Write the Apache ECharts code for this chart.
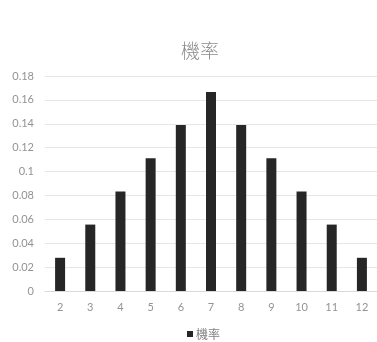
<!DOCTYPE html>
<html><head><meta charset="utf-8">
<script src="https://cdn.jsdelivr.net/npm/echarts@6/dist/echarts.min.js"></script>
<style>html,body{margin:0;padding:0;background:#fff}#c{width:377px;height:342px}</style>
</head><body><div id="c"></div>
<script>
const categories = ['2','3','4','5','6','7','8','9','10','11','12'];
const probability = [0.0278,0.0556,0.0833,0.1111,0.1389,0.1667,0.1389,0.1111,0.0833,0.0556,0.0278];
const seriesName = '機率';
const titleText = '機率';

const chart = echarts.init(document.getElementById('c'), null, {renderer:'canvas'});
const lbl = {color:'#939393', fontSize:11, fontFamily:'Lato, "Noto Sans CJK TC", sans-serif'};
chart.setOption({
  animation:false,
  backgroundColor:'#fff',
  title:{text:titleText,left:195,top:36,textAlign:'center',textStyle:{color:'#8c8c8c',fontSize:19,fontWeight:300,fontFamily:'"Noto Sans CJK TC", sans-serif'}},
  legend:{top:323,left:182,icon:'rect',itemWidth:6,itemHeight:6,itemGap:4,
    textStyle:{color:'#808080',fontSize:12,fontFamily:'"Noto Sans CJK TC", sans-serif',padding:[0,0,0,-2]},data:[seriesName]},
  grid:{left:45,right:0,top:76,bottom:51,containLabel:false},
  xAxis:{type:'category',data:categories,
    axisLine:{lineStyle:{color:'#d9d9d9'}},axisTick:{show:false},
    axisLabel:Object.assign({margin:11},lbl)},
  yAxis:{type:'value',min:0,max:0.18,interval:0.02,
    axisLine:{show:false},axisTick:{show:false},
    splitLine:{lineStyle:{color:'#e6e6e6'}},
    axisLabel:Object.assign({margin:11},lbl)},
  series:[{name:seriesName,type:'bar',data:probability,barWidth:10,itemStyle:{color:'#262626'}}]
});
</script></body></html>
